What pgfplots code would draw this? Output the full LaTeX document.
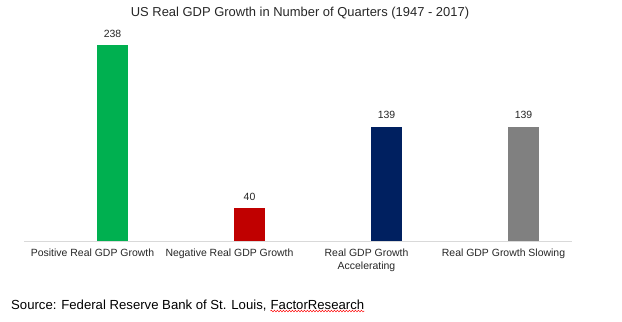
\documentclass[border=0pt]{standalone}
\usepackage{pgfplots}
\pgfplotsset{compat=1.18}
\usepackage{fontspec}
\setmainfont{Liberation Sans}
\usetikzlibrary{decorations.pathmorphing}
\definecolor{cgreen}{HTML}{00B050}
\definecolor{cred}{HTML}{C00000}
\definecolor{cnavy}{HTML}{002060}
\definecolor{cgray}{HTML}{808080}
\definecolor{cline}{HTML}{D9D9D9}
\begin{document}
\begin{tikzpicture}[x=1bp,y=1bp]
\useasboundingbox (0,0) rectangle (622,321);
\begin{axis}[
  at={(24bp,80bp)}, anchor=south west,
  scale only axis, width=548bp, height=214bp,
  xmin=-0.5, xmax=3.5, ymin=0, ymax=260,
  axis x line*=bottom, hide y axis,
  x axis line style={draw=cline, line width=0.8bp},
  xtick={0,1,2,3},
  xticklabels={Positive Real GDP Growth,Negative Real GDP Growth,{Real GDP Growth\\Accelerating},Real GDP Growth Slowing},
  major tick length=0pt,
  xticklabel style={font=\fontsize{10.5}{12.5}\selectfont, align=center, text=black!85, inner sep=0pt, yshift=-8bp},
  ybar, bar width=31bp,
  /pgf/number format/assume math mode=true,
  nodes near coords,
  every node near coord/.append style={font=\fontsize{10.5}{12}\selectfont, text=black!85, yshift=4bp},
  clip=false,
]
\addplot[fill=cgreen, draw=none, bar shift=0pt] coordinates {(0.146,238)};
\addplot[fill=cred, draw=none, bar shift=0pt] coordinates {(1.146,40)};
\addplot[fill=cnavy, draw=none, bar shift=0pt] coordinates {(2.146,139)};
\addplot[fill=cgray, draw=none, bar shift=0pt] coordinates {(3.146,139)};
\end{axis}
\node[font=\fontsize{13}{15}\selectfont, text=black!85] at (300,308) {US Real GDP Growth in Number of Quarters (1947 - 2017)};
\node[font=\fontsize{13.2}{15}\selectfont, anchor=base west, inner sep=0pt] (s1) at (11,12) {Source: Federal Reserve Bank of St. Louis,};
\node[font=\fontsize{13.2}{15}\selectfont, anchor=base west, inner sep=0pt] (s2) at ([xshift=3.7bp]s1.base east) {FactorResearch};
\draw[red, line width=0.5bp, decorate, decoration={snake, amplitude=0.8bp, segment length=3bp}] ([yshift=-2bp]s2.base west) -- ([yshift=-2bp]s2.base east);
\end{tikzpicture}
\end{document}
